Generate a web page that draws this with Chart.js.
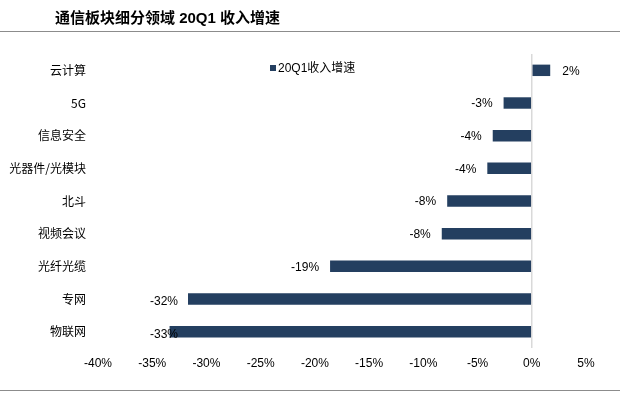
<!DOCTYPE html>
<html>
<head>
<meta charset="utf-8">
<script src="https://cdn.jsdelivr.net/npm/chart.js@4/dist/chart.umd.min.js"></script>
<style>
  html, body { margin: 0; padding: 0; background: #fff; }
  #wrap { position: relative; width: 625px; height: 396px; overflow: hidden; }
  #title { position: absolute; left: 55px; top: 6px; font: bold 15px "Liberation Sans", "Noto Sans CJK SC", sans-serif; color: #000; white-space: nowrap; }
  .rule { position: absolute; left: 0; width: 620px; height: 1px; background: #8c8c8c; }
  #legend { position: absolute; left: 270px; top: 58px; font: 12px "Liberation Sans", "Noto Sans CJK SC", sans-serif; color: #000; white-space: nowrap; }
  #legend i { display: inline-block; width: 6px; height: 6px; background: #243f60; margin-right: 2px; vertical-align: 1px; }
  canvas { position: absolute; left: 0; top: 0; }
</style>
</head>
<body>
<div id="wrap">
  <canvas id="chart" width="625" height="396"></canvas>
  <div id="title">通信板块细分领域 20Q1 收入增速</div>
  <div class="rule" style="top:31px"></div>
  <div class="rule" style="top:390px"></div>
  <div id="legend"><i></i>20Q1收入增速</div>
</div>
<script>
const categories = ['云计算', '5G', '信息安全', '光器件/光模块', '北斗', '视频会议', '光纤光缆', '专网', '物联网'];
const growth = [1.7, -2.6, -3.6, -4.1, -7.8, -8.3, -18.6, -31.7, -33.4]; // 20Q1收入增速 (%)
const xTicks = [-40, -35, -30, -25, -20, -15, -10, -5, 0, 5];

const numFont = '"Liberation Sans", Arial, sans-serif';
const cjkFont = '"Noto Sans CJK SC", "Liberation Sans", sans-serif';

// value labels next to bar ends
const barLabels = {
    id: 'barLabels',
    afterDatasetsDraw(chart) {
        const ctx = chart.ctx;
        const meta = chart.getDatasetMeta(0);
        ctx.save();
        ctx.font = '12px ' + numFont;
        ctx.fillStyle = '#000';
        ctx.textBaseline = 'middle';
        meta.data.forEach((bar, i) => {
            const v = growth[i];
            const txt = Math.round(v) + '%';
            if (v >= 0) {
                ctx.textAlign = 'left';
                ctx.fillText(txt, bar.x + 12, bar.y + 1);
            } else {
                ctx.textAlign = 'left';
                const w = ctx.measureText(txt).width;
                const x = Math.max(bar.x - 11 - w, 150);
                ctx.fillText(txt, x, bar.y + (x > bar.x - 11 - w ? 3 : 1));
            }
        });
        ctx.restore();
    }
};

new Chart(document.getElementById('chart'), {
    type: 'bar',
    data: {
        labels: categories,
        datasets: [
            {
                label: '20Q1收入增速',
                data: growth,
                backgroundColor: '#243f60',
                borderWidth: 0,
                barPercentage: 0.35,
                categoryPercentage: 1,
            },
        ],
    },
    options: {
        indexAxis: 'y',
        responsive: false,
        animation: false,
        layout: { padding: { top: 54, right: 39, bottom: 18, left: 0 } },
        plugins: {
            legend: { display: false },
            tooltip: { enabled: false },
        },
        scales: {
            x: {
                min: -40,
                max: 5,
                afterBuildTicks: (scale) => { scale.ticks = xTicks.map(v => ({ value: v })); },
                afterFit: (scale) => { scale.height = 30; },
                grid: {
                    color: (c) => (c.tick && c.tick.value === 0 ? '#d9d9d9' : 'rgba(0,0,0,0)'),
                    lineWidth: 1.5,
                    drawTicks: false,
                },
                border: { display: false },
                ticks: {
                    padding: 8,
                    color: '#000',
                    font: { family: numFont, size: 12 },
                    callback: (v) => v + '%',
                },
            },
            y: {
                afterFit: (scale) => { scale.width = 98; },
                grid: { display: false, drawTicks: false },
                border: { display: false },
                ticks: {
                    padding: 12,
                    color: '#000',
                    font: { family: cjkFont, size: 12 },
                },
            },
        },
    },
    plugins: [barLabels],
});
</script>
</body>
</html>
